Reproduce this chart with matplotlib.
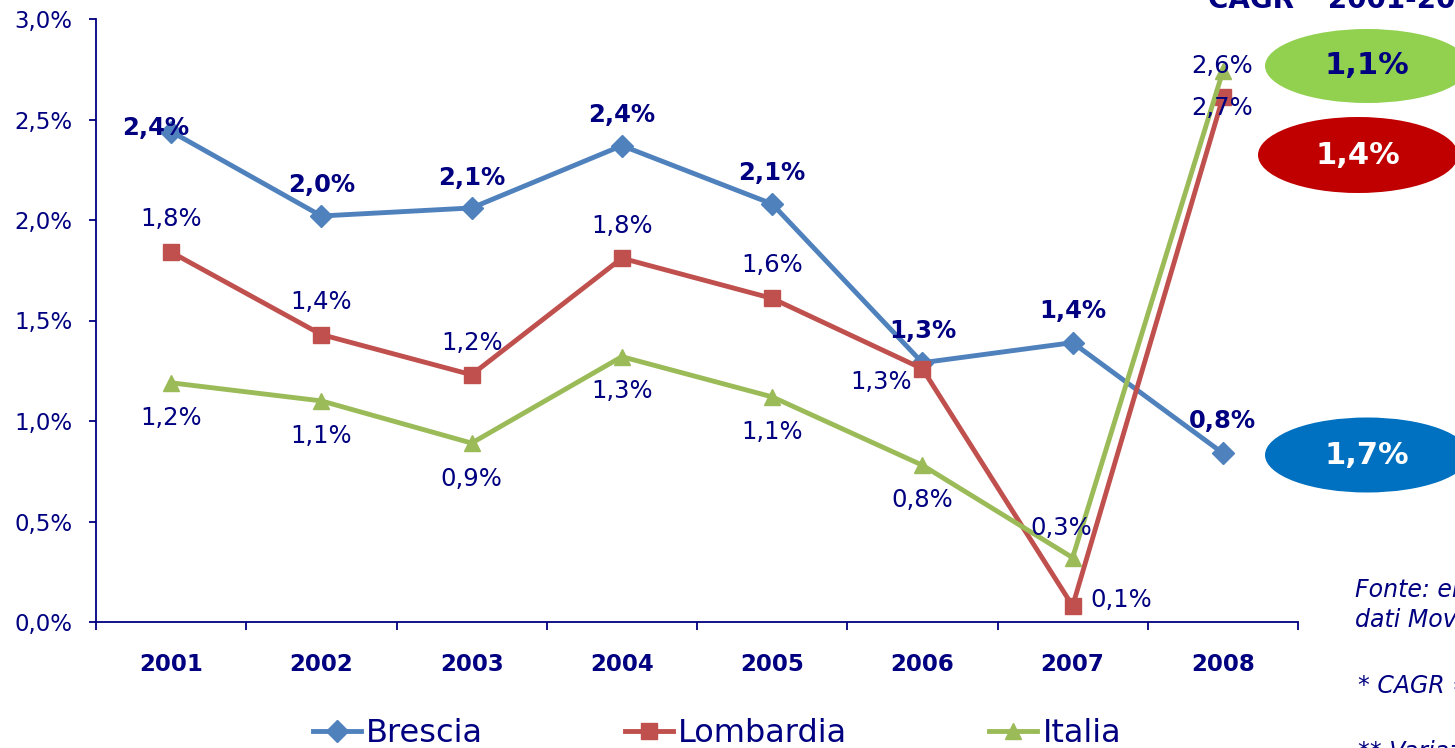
import matplotlib
matplotlib.use("Agg")
import matplotlib.pyplot as plt
from matplotlib.patches import Ellipse
from matplotlib.lines import Line2D
from matplotlib.ticker import FixedLocator, FuncFormatter

# ---- data ----
years = ["2001", "2002", "2003", "2004", "2005", "2006", "2007", "2008"]
brescia = [2.44, 2.02, 2.06, 2.37, 2.08, 1.29, 1.39, 0.84]
lombardia = [1.84, 1.43, 1.23, 1.81, 1.61, 1.26, 0.08, 2.61]
italia = [1.19, 1.10, 0.89, 1.32, 1.12, 0.78, 0.32, 2.74]
brescia_labels = ["2,4%", "2,0%", "2,1%", "2,4%", "2,1%", "1,3%", "1,4%", "0,8%"]
lombardia_labels = ["1,8%", "1,4%", "1,2%", "1,8%", "1,6%", "1,3%", "0,1%", "2,7%"]
italia_labels = ["1,2%", "1,1%", "0,9%", "1,3%", "1,1%", "0,8%", "0,3%", "2,6%"]
cagr_values = ["1,1%", "1,4%", "1,7%"]
yticks = [0.0, 0.5, 1.0, 1.5, 2.0, 2.5, 3.0]

# ---- styles ----
NAVY = "#000080"
C_BRE = "#4F81BD"
C_LOM = "#C0504D"
C_ITA = "#9BBB59"
NARROW = ["Liberation Sans Narrow", "DejaVu Sans Condensed", "DejaVu Sans"]
PX = 72.0 / 100.0  # px -> points

W, H = 1455, 748
fig = plt.figure(figsize=(W / 100, H / 100), dpi=100)
ax = fig.add_axes([96 / W, 1 - 622 / H, (1298 - 96) / W, (622 - 19) / H])

x = list(range(len(years)))
LW = 3.5
ax.plot(x, brescia, color=C_BRE, lw=LW, marker="D", ms=11, mec=C_BRE, mfc=C_BRE, zorder=3)
ax.plot(x, lombardia, color=C_LOM, lw=LW, marker="s", ms=12, mec=C_LOM, mfc=C_LOM, zorder=3)
ax.plot(x, italia, color=C_ITA, lw=LW, marker="^", ms=12, mec=C_ITA, mfc=C_ITA, zorder=3)

ax.set_xlim(-0.5, 7.5)
ax.set_ylim(0, 3.0)

# label offsets in pixels (dx, dy with dy up positive)
bre_off = [(-15, 4), (0, 31), (0, 30), (0, 31), (0, 31), (0, 32), (0, 32), (0, 32)]
lom_off = [(0, 33), (0, 33), (0, 32), (0, 32), (0, 33), (-41, -13), (49, 6), (-1, -11)]
ita_off = [(0, -35), (0, -35), (0, -36), (0, -34), (0, -35), (0, -35), (-11, 30), (-1, 5)]

for i in x:
    ax.annotate(brescia_labels[i], (i, brescia[i]), xytext=(bre_off[i][0] * PX, bre_off[i][1] * PX),
                textcoords="offset points", ha="center", va="center", fontsize=17.5,
                fontweight="bold", color=NAVY, zorder=5)
    ax.annotate(lombardia_labels[i], (i, lombardia[i]), xytext=(lom_off[i][0] * PX, lom_off[i][1] * PX),
                textcoords="offset points", ha="center", va="center", fontsize=17.5,
                color=NAVY, zorder=5)
    ax.annotate(italia_labels[i], (i, italia[i]), xytext=(ita_off[i][0] * PX, ita_off[i][1] * PX),
                textcoords="offset points", ha="center", va="center", fontsize=17.5,
                color=NAVY, zorder=5)

# axes styling
for s in ["top", "right"]:
    ax.spines[s].set_visible(False)
for s in ["left", "bottom"]:
    ax.spines[s].set_color(NAVY)
    ax.spines[s].set_linewidth(1.3)

ax.set_yticks(yticks)
ax.yaxis.set_major_formatter(FuncFormatter(lambda v, p: f"{v:.1f}%".replace(".", ",")))
ax.tick_params(axis="y", length=5, width=1.3, color=NAVY, labelcolor=NAVY, pad=12,
               labelsize=16.5)

ax.xaxis.set_major_locator(FixedLocator([i - 0.5 for i in range(len(years) + 1)]))
ax.xaxis.set_minor_locator(FixedLocator(x))
ax.set_xticklabels([], minor=False)
ax.set_xticks(x, minor=True)
ax.set_xticklabels(years, minor=True, fontsize=16.5, fontweight="bold", color=NAVY)
ax.tick_params(axis="x", which="major", length=6, width=1.3, color=NAVY)
ax.tick_params(axis="x", which="minor", length=0, pad=22)

# legend
handles = [
    Line2D([], [], color=C_BRE, lw=LW, marker="D", ms=11),
    Line2D([], [], color=C_LOM, lw=LW, marker="s", ms=12),
    Line2D([], [], color=C_ITA, lw=LW, marker="^", ms=12),
]
leg = fig.legend(handles, ["Brescia", "Lombardia", "Italia"], loc="center",
                 bbox_to_anchor=(717 / W, 1 - 734 / H), ncol=3, frameon=False,
                 handlelength=1.5, handletextpad=0.16, columnspacing=4.45, numpoints=1,
                 prop={"family": NARROW, "size": 23})
for t in leg.get_texts():
    t.set_color(NAVY)

# CAGR ellipses
ell_specs = [
    (1367, 66, 204, 74, "#92D050", NAVY),
    (1358, 155, 200, 76, "#C00000", "white"),
    (1367, 455, 204, 75, "#0070C0", "white"),
]
for (cx, cy, ew, eh, fc, tc), val in zip(ell_specs, cagr_values):
    e = Ellipse((cx / W, 1 - cy / H), ew / W, eh / H, transform=fig.transFigure,
                facecolor=fc, edgecolor="none", zorder=1)
    fig.add_artist(e)
    fig.text(cx / W, 1 - cy / H, val, ha="center", va="center", fontsize=22,
             fontweight="bold", color=tc)

# header (cut off at top)
fig.text(1208 / W, 1 - 8 / H, "CAGR*  2001-2008", ha="left", va="baseline",
         fontsize=20, fontweight="bold", color=NAVY)

# footnotes (cut off at right)
fig.text(1355 / W, 1 - 597 / H, "Fonte: elaborazione su", ha="left", va="baseline",
         fontsize=17, style="italic", color=NAVY)
fig.text(1355 / W, 1 - 627 / H, "dati Movimprese", ha="left", va="baseline",
         fontsize=17, style="italic", color=NAVY)
fig.text(1358 / W, 1 - 693 / H, "* CAGR = tasso medio annuo", ha="left", va="baseline",
         fontsize=17, style="italic", color=NAVY)
fig.text(1358 / W, 1 - 759 / H, "** Variazione", ha="left", va="baseline",
         fontsize=17, style="italic", color=NAVY)

fig.savefig("out.png", dpi=100)
